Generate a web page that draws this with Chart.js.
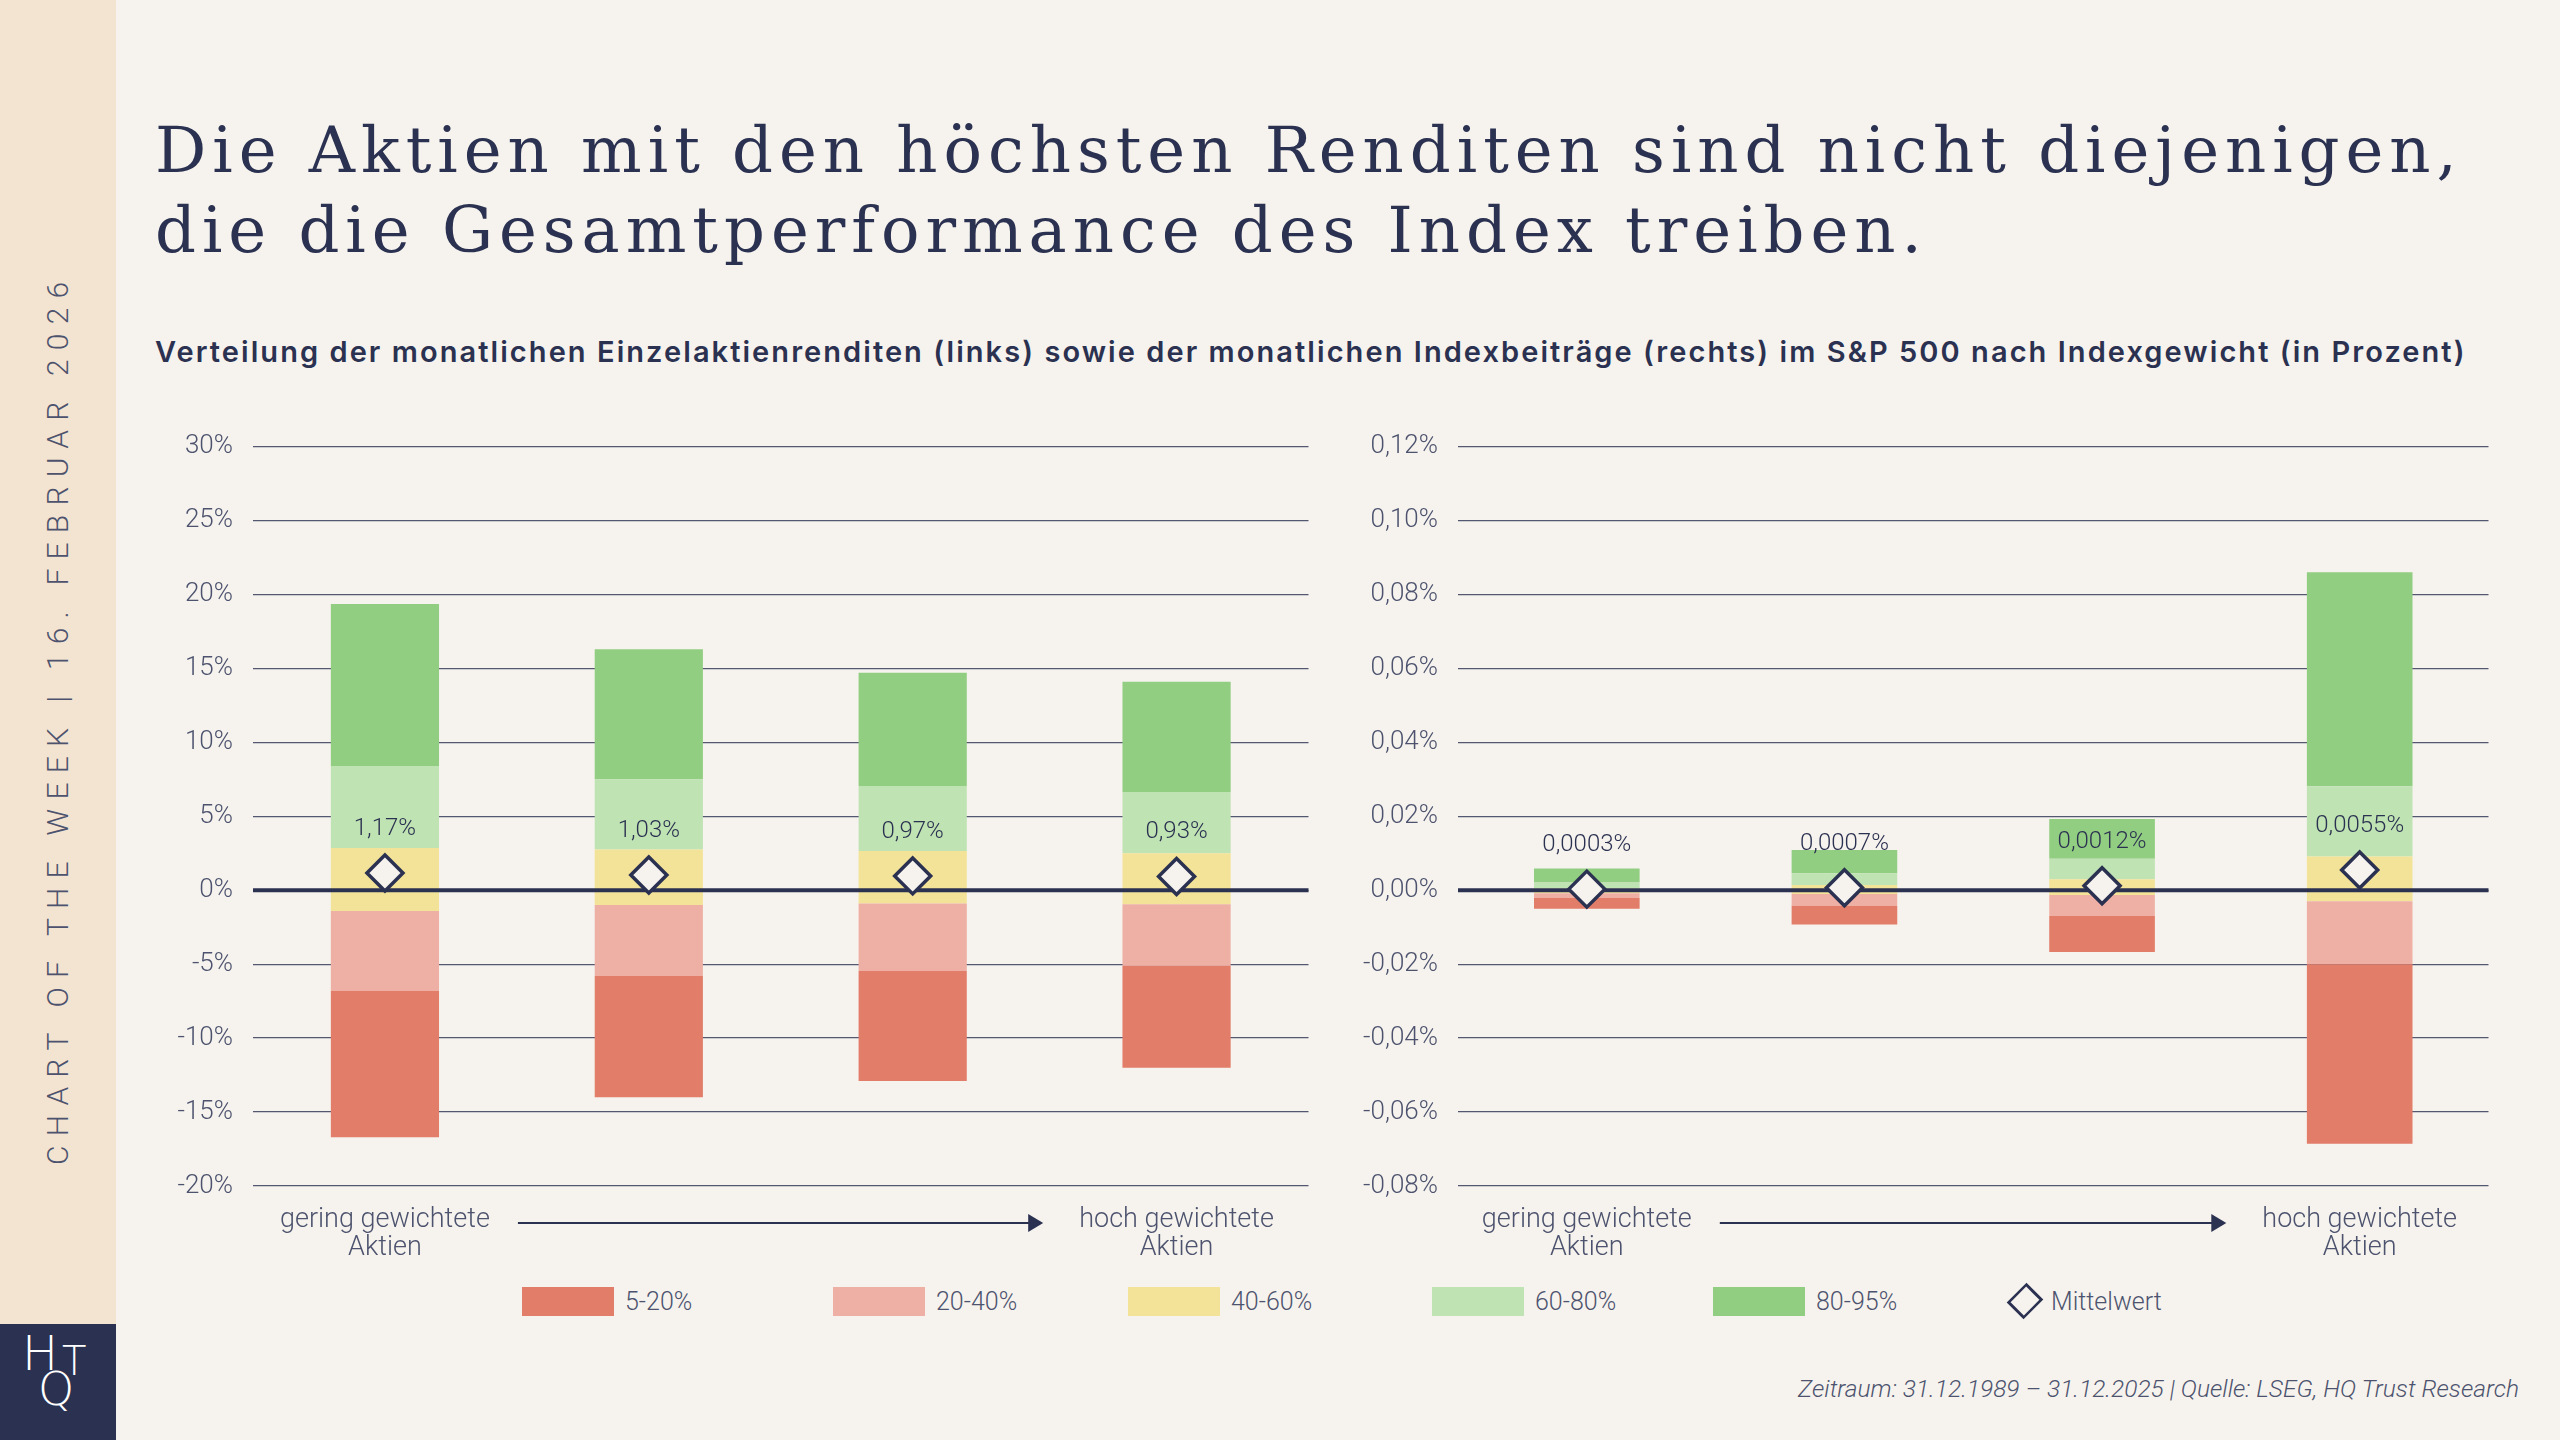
<!DOCTYPE html>
<html lang="de">
<head>
<meta charset="UTF-8">
<title>Chart of the Week</title>
<script src="https://cdn.jsdelivr.net/npm/chart.js"></script>
<style>
  html, body { margin: 0; padding: 0; }
  body { width: 2560px; height: 1440px; background: #f6f3ee; position: relative; overflow: hidden; font-family: Roboto, "Noto Sans", sans-serif; color: #2b3150; }
  .side { position: absolute; left: 0; top: 0; width: 116px; height: 1440px; background: #f3e4d1; }
  .logo { position: absolute; left: 0; top: 1324px; width: 116px; height: 116px; background: #2b3150; }
  .logo span { position: absolute; color: #fff; font-family: "DejaVu Sans", sans-serif; font-weight: 300; }
  .vtext { position: absolute; left: 38px; top: 1165px; transform-origin: 0 0; transform: rotate(-90deg);
           white-space: nowrap; font-size: 30px; line-height: 40px; letter-spacing: 9.2px; font-weight: 300; color: #4d536e; }
  h1 { position: absolute; left: 155px; top: 110px; margin: 0; font-family: "DejaVu Serif", serif; font-weight: normal;
       font-size: 64px; line-height: 80px; letter-spacing: 5.95px; color: #2b3150; white-space: nowrap; }
  .sub { position: absolute; left: 155px; top: 334px; margin: 0; font-family: Inter, "DejaVu Sans", sans-serif; font-weight: 600;
         font-size: 29px; line-height: 36px; letter-spacing: 2.06px; white-space: nowrap; }
  canvas { position: absolute; }
  #leftChart { left: 140px; top: 411px; }
  #rightChart { left: 1330px; top: 411px; }
  .legend { position: absolute; top: 1286px; left: 0; width: 2560px; height: 32px; }
  .legend .item { position: absolute; top: 0; display: flex; align-items: center; height: 30px; font-size: 25px; font-weight: 300; color: #4d536e; }
  .legend .box { width: 92px; height: 29px; margin-right: 11px; }
  .legend .dia { width: 22px; height: 22px; border: 3px solid #2b3150; transform: rotate(45deg) scaleX(0.85); margin: 0 12px 0 6px; background: #f6f3ee; }
  .foot { position: absolute; right: 41px; top: 1374px; font-size: 24.5px; font-style: italic; font-weight: 300; color: #4d536e; white-space: nowrap; }
</style>
</head>
<body>
<div class="side"></div>
<div class="logo"><span style="left:22px;top:1px;font-size:48px;">H</span><span style="left:62px;top:14px;font-size:40px;">T</span><span style="left:38px;top:38px;font-size:46px;">Q</span></div>
<div class="vtext">CHART OF THE WEEK | 16. FEBRUAR 2026</div>
<h1>Die Aktien mit den höchsten Renditen sind nicht diejenigen,<br>die die Gesamtperformance des Index treiben.</h1>
<div class="sub">Verteilung der monatlichen Einzelaktienrenditen (links) sowie der monatlichen Indexbeiträge (rechts) im S&amp;P 500 nach Indexgewicht (in Prozent)</div>

<canvas id="leftChart" width="1190" height="860"></canvas>
<canvas id="rightChart" width="1180" height="860"></canvas>

<div class="legend" id="legend"></div>
<div class="foot">Zeitraum: 31.12.1989 – 31.12.2025 | Quelle: LSEG, HQ Trust Research</div>

<script>
// categories (only the outer groups are labelled)
const categories = [['gering gewichtete', 'Aktien'], '', '', ['hoch gewichtete', 'Aktien']];
const seriesNames = ['5-20%', '20-40%', '40-60%', '60-80%', '80-95%'];
const seriesColors = ['#e27d69', '#eeb0a4', '#f3e398', '#bfe3b3', '#92ce81'];
const meanName = 'Mittelwert';

// left: monthly single stock returns, percentiles in %
const retP5  = [-16.7, -14.0, -12.9, -12.0];
const retP20 = [-6.8, -5.8, -5.45, -5.1];
const retP40 = [-1.4, -1.0, -0.9, -0.95];
const retP60 = [2.85, 2.75, 2.65, 2.5];
const retP80 = [8.4, 7.5, 7.05, 6.65];
const retP95 = [19.35, 16.3, 14.7, 14.1];
const retMean = [1.17, 1.03, 0.97, 0.93];

// right: monthly index contributions, percentiles in %
const conP5  = [-0.0050, -0.0093, -0.0167, -0.0686];
const conP20 = [-0.0021, -0.0042, -0.0070, -0.0200];
const conP40 = [-0.0008, -0.0010, -0.0013, -0.0030];
const conP60 = [0.0005, 0.0014, 0.0030, 0.0091];
const conP80 = [0.0021, 0.0046, 0.0085, 0.0281];
const conP95 = [0.0059, 0.0109, 0.0193, 0.0860];
const conMean = [0.0003, 0.0007, 0.0012, 0.0055];

const leftTicks = { min: -20, max: 30, step: 5, decimals: 0 };
const rightTicks = { min: -0.08, max: 0.12, step: 0.02, decimals: 2 };

const NAVY = '#2b3150';
const TEXT = '#4d536e';
const FAMILY = 'Roboto, "Noto Sans", sans-serif';

function fmt(v, d) {
    return v.toFixed(d).replace('.', ',') + '%';
}

// thick zero line, drawn over the bars but under the diamonds
const zeroLine = {
    id: 'zeroLine',
    beforeDatasetDraw(chart, args) {
        if (args.index !== 5) return;
        const y = chart.scales.y.getPixelForValue(0);
        const ctx = chart.ctx;
        ctx.save();
        ctx.strokeStyle = NAVY;
        ctx.lineWidth = 4;
        ctx.beginPath();
        ctx.moveTo(chart.chartArea.left, y);
        ctx.lineTo(chart.chartArea.right, y);
        ctx.stroke();
        ctx.restore();
    }
};

// value labels above the mean diamonds
const meanLabels = {
    id: 'meanLabels',
    afterDatasetsDraw(chart, args, opts) {
        const meta = chart.getDatasetMeta(5);
        const ctx = chart.ctx;
        ctx.save();
        ctx.font = '300 24px ' + FAMILY;
        ctx.fillStyle = NAVY;
        ctx.textAlign = 'center';
        ctx.textBaseline = 'middle';
        meta.data.forEach((pt, i) => {
            ctx.fillText(fmt(chart.data.datasets[5].data[i], opts.decimals), pt.x, pt.y - 44);
        });
        ctx.restore();
    }
};

// arrow between the outer category labels
const weightArrow = {
    id: 'weightArrow',
    afterDraw(chart) {
        const x = chart.scales.x;
        const ctx = chart.ctx;
        ctx.save();
        ctx.font = '300 27px ' + FAMILY;
        const w0 = ctx.measureText(categories[0][0]).width / 2;
        const w3 = ctx.measureText(categories[3][0]).width / 2;
        const x0 = x.getPixelForTick(0) + w0 + 28;
        const x1 = x.getPixelForTick(3) - w3 - 36;
        const y = chart.chartArea.bottom + 37;
        ctx.strokeStyle = NAVY;
        ctx.fillStyle = NAVY;
        ctx.lineWidth = 2;
        ctx.beginPath();
        ctx.moveTo(x0, y);
        ctx.lineTo(x1 - 12, y);
        ctx.stroke();
        ctx.beginPath();
        ctx.moveTo(x1, y);
        ctx.lineTo(x1 - 15, y - 9);
        ctx.lineTo(x1 - 15, y + 9);
        ctx.closePath();
        ctx.fill();
        ctx.restore();
    }
};

function makeChart(id, bounds, means, t, yWidth, padRight) {
    const datasets = seriesNames.map((name, i) => ({
        type: 'bar',
        label: name,
        data: categories.map((c, j) => [bounds[i][j], bounds[i + 1][j]]),
        backgroundColor: seriesColors[i],
        borderWidth: 0,
        grouped: false,
        barPercentage: 0.41,
        categoryPercentage: 1,
        order: 1
    }));
    datasets.push({
        type: 'line',
        label: meanName,
        data: means,
        showLine: false,
        pointStyle: 'rectRot',
        pointRadius: 18,
        pointHoverRadius: 18,
        pointBackgroundColor: '#f6f3ee',
        pointBorderColor: NAVY,
        pointBorderWidth: 3.5,
        order: 0
    });

    return new Chart(document.getElementById(id), {
        data: { labels: categories, datasets: datasets },
        options: {
            responsive: false,
            animation: false,
            events: [],
            layout: { padding: { top: 21, right: padRight, bottom: 5, left: 0 } },
            plugins: {
                legend: { display: false },
                tooltip: { enabled: false },
                meanLabels: { decimals: t.decimals === 0 ? 2 : 4 }
            },
            scales: {
                x: {
                    grid: { display: false },
                    border: { display: false },
                    ticks: {
                        autoSkip: false,
                        maxRotation: 0,
                        padding: 12,
                        color: TEXT,
                        font: { family: FAMILY, size: 27, weight: 300, lineHeight: 1.05 }
                    },
                    afterFit: s => { s.height = 80; }
                },
                y: {
                    min: t.min,
                    max: t.max,
                    border: { display: false },
                    grid: { color: 'rgba(43,49,80,0.8)', lineWidth: 1.3, drawTicks: false },
                    ticks: {
                        stepSize: t.step,
                        padding: 20,
                        color: TEXT,
                        font: { family: FAMILY, size: 26, weight: 300 },
                        callback: v => fmt(Math.round(v / t.step) * t.step, t.decimals)
                    },
                    afterFit: s => { s.width = yWidth; }
                }
            }
        },
        plugins: [zeroLine, meanLabels, weightArrow]
    });
}

makeChart('leftChart', [retP5, retP20, retP40, retP60, retP80, retP95], retMean, leftTicks, 113, 16);
makeChart('rightChart', [conP5, conP20, conP40, conP60, conP80, conP95], conMean, rightTicks, 128, 18);

// legend across both charts
const legendLeft = [522, 833, 1128, 1432, 1713, 2005];
const legend = document.getElementById('legend');
seriesNames.forEach((name, i) => {
    const item = document.createElement('div');
    item.className = 'item';
    item.style.left = legendLeft[i] + 'px';
    item.innerHTML = '<div class="box" style="background:' + seriesColors[i] + '"></div>' + name;
    legend.appendChild(item);
});
const meanItem = document.createElement('div');
meanItem.className = 'item';
meanItem.style.left = legendLeft[5] + 'px';
meanItem.innerHTML = '<div class="dia"></div>' + meanName;
legend.appendChild(meanItem);
</script>
</body>
</html>
